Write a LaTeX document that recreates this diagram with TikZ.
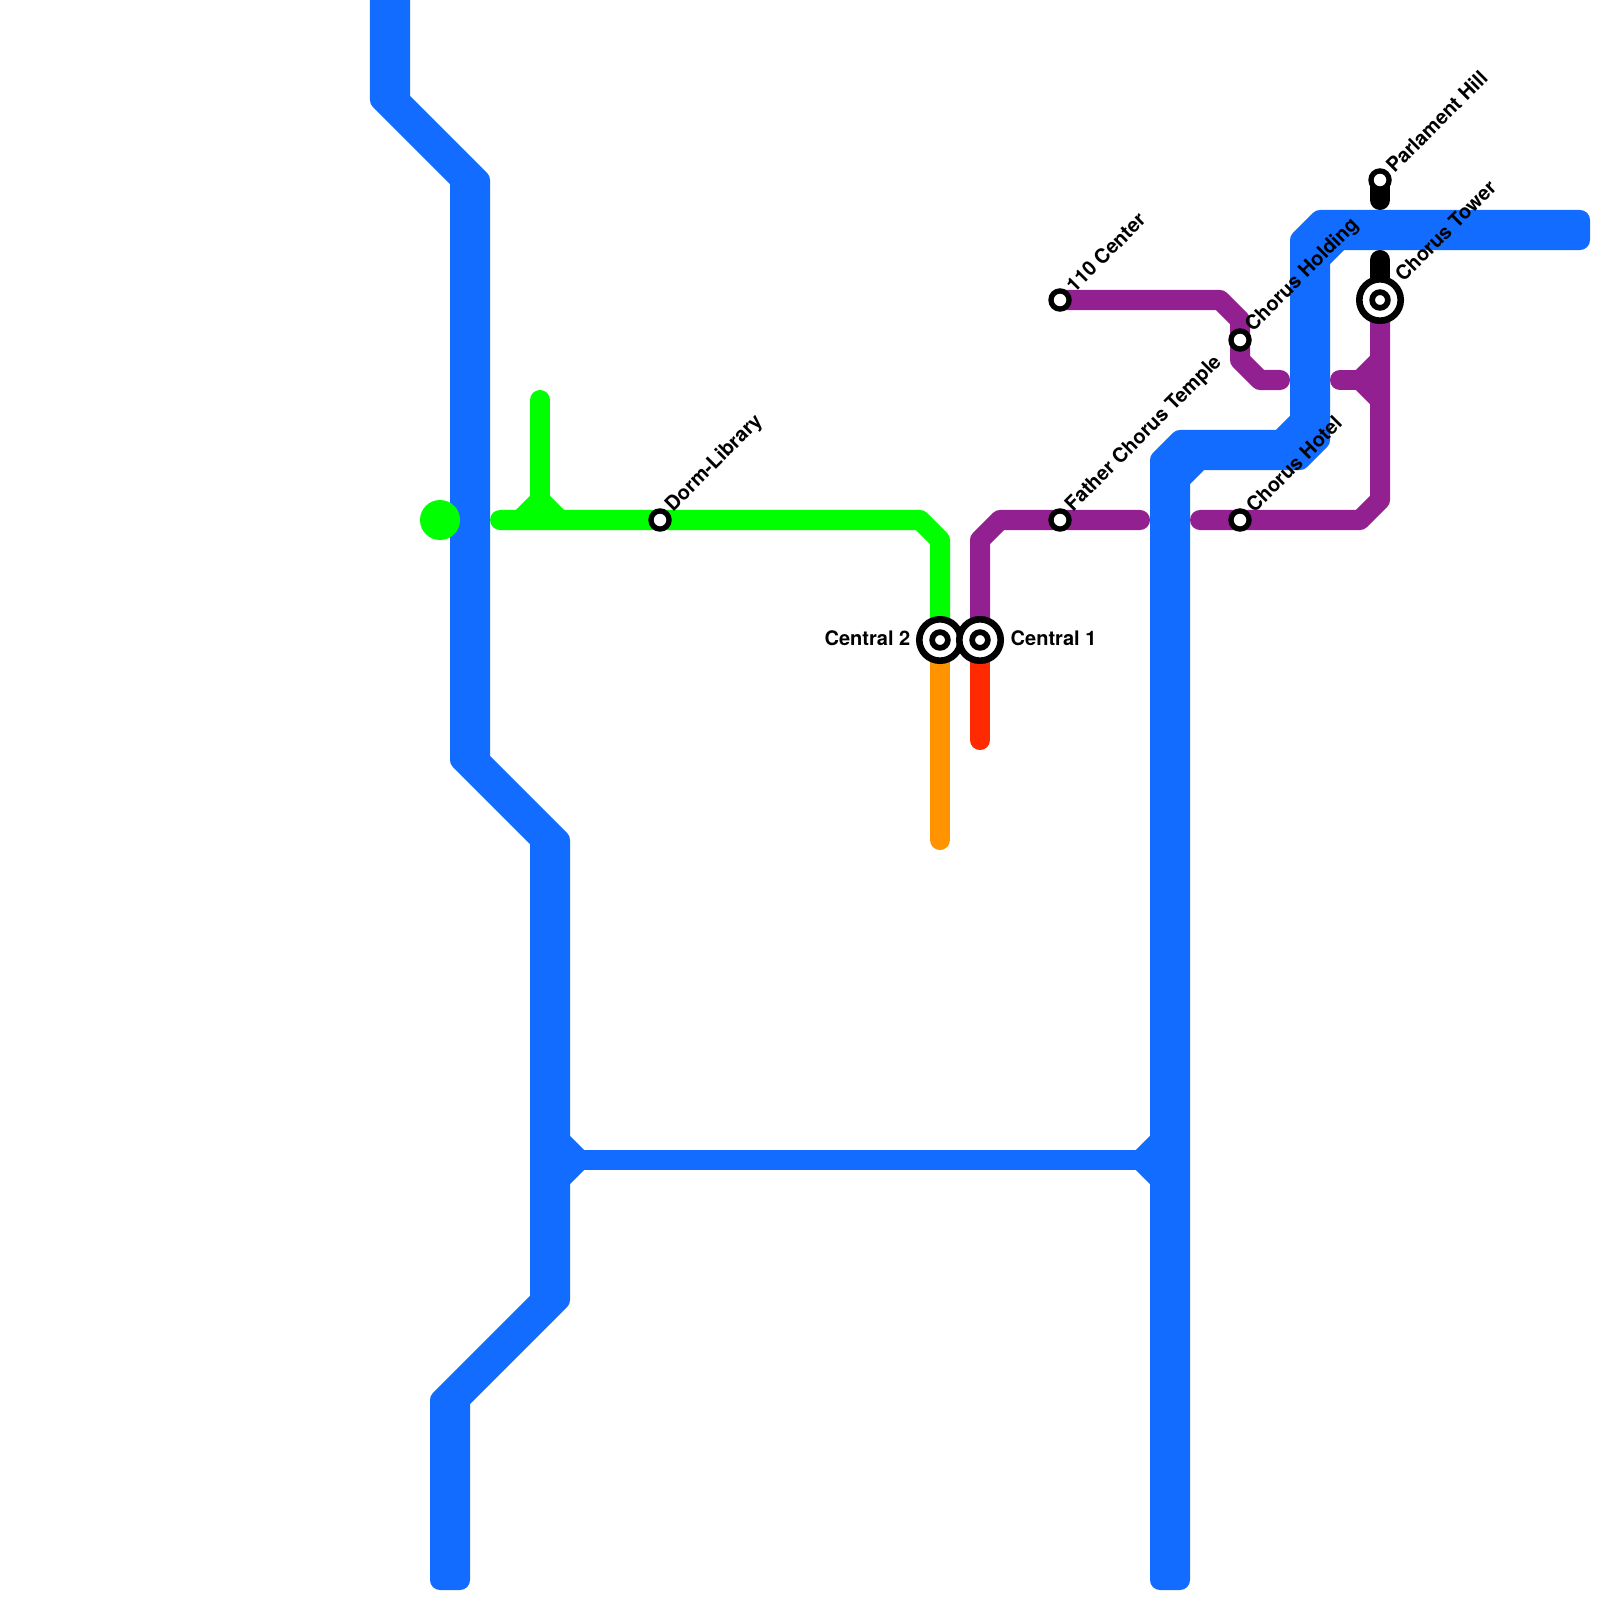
\documentclass[tikz,border=0pt]{standalone}
\usepackage{fontspec}
\setmainfont{TeX Gyre Heros}
\definecolor{metroblue}{HTML}{116CFF}
\definecolor{metrogreen}{HTML}{00FF00}
\definecolor{metropurple}{HTML}{922090}
\definecolor{metroorange}{HTML}{FF9400}
\definecolor{metrored}{HTML}{FF2A00}
\begin{document}
\begin{tikzpicture}[x=0.01cm, y=-0.01cm,
	metroline/.style={line width=0.2cm, line cap=round, line join=round},
	smallstop/.style={circle, draw=black, fill=white, line width=0.053cm, minimum size=0.181cm, inner sep=0pt, outer sep=0pt},
	bigstop/.style={circle, draw=black, fill=white, line width=0.066cm, minimum size=0.414cm, inner sep=0pt, outer sep=0pt},
	bigstopin/.style={circle, draw=black, fill=white, line width=0.057cm, minimum size=0.157cm, inner sep=0pt, outer sep=0pt},
	stoplabel/.style={inner sep=0pt, font=\fontsize{5.69}{7}\selectfont\bfseries},
	slantlabel/.style={stoplabel, rotate=45, anchor=west}]
	\useasboundingbox (0,0) rectangle (1600,1600);
	\clip (0,0) rectangle (1600,1600);
	%station positions
	\coordinate (dorm) at (660,520);
	\coordinate (center110) at (1060,300);
	\coordinate (temple) at (1060,520);
	\coordinate (holding) at (1240,340);
	\coordinate (hotel) at (1240,520);
	\coordinate (parlament) at (1380,180);
	\coordinate (tower) at (1380,300);
	\coordinate (central1) at (980,640);
	\coordinate (central2) at (940,640);
	%draw blue lines
	\filldraw [metroline, metroblue] (380,-30) -- (380,100) -- (460,180) -- (460,760) -- (540,840) -- (540,1300) -- (440,1400) -- (440,1580)
		-- (460,1580) -- (460,1400) -- (560,1300) -- (560,840) -- (480,760) -- (480,180) -- (400,100) -- (400,-30) -- cycle;
	\filldraw [metroline, metroblue] (1160,1580) -- (1160,460) -- (1180,440) -- (1280,440) -- (1300,420) -- (1300,240) -- (1320,220) -- (1580,220)
		-- (1580,240) -- (1340,240) -- (1320,260) -- (1320,440) -- (1300,460) -- (1200,460) -- (1180,480) -- (1180,1580) -- cycle;
	\draw [metroline, metroblue] (550,1130) -- (580,1160) -- (550,1190);
	\draw [metroline, metroblue] (1170,1130) -- (1140,1160) -- (1170,1190);
	\draw [metroline, metroblue] (580,1160) -- (1140,1160);
	%draw green line
	\draw [metroline, metrogreen] (500,520) -- (dorm) -- (920,520) -- (940,540) -- (central2);
	\draw [metroline, metrogreen] (540,400) -- (540,520);
	\draw [metroline, metrogreen] (520,520) -- (540,500) -- (560,520);
	\fill [metrogreen] (440,520) circle (20);
	%draw purple line
	\draw [metroline, metropurple] (central1) -- (980,540) -- (1000,520) -- (temple) -- (1140,520);
	\draw [metroline, metropurple] (center110) -- (1220,300) -- (1240,320) -- (holding) -- (1240,360) -- (1260,380) -- (1280,380);
	\draw [metroline, metropurple] (1340,380) -- (1380,380);
	\draw [metroline, metropurple] (1380,360) -- (1360,380) -- (1380,400);
	\draw [metroline, metropurple] (tower) -- (1380,500) -- (1360,520) -- (hotel) -- (1200,520);
	%draw other lines
	\draw [metroline, metroorange] (central2) -- (940,840);
	\draw [metroline, metrored] (central1) -- (980,740);
	\draw [metroline, black] (parlament) -- (1380,200);
	\draw [metroline, black] (1380,260) -- (tower);
	%draw stations
	\node [smallstop] (dormstop) at (dorm) {};
	\node [smallstop] (center110stop) at (center110) {};
	\node [smallstop] (templestop) at (temple) {};
	\node [smallstop] (holdingstop) at (holding) {};
	\node [smallstop] (hotelstop) at (hotel) {};
	\node [smallstop] (parlamentstop) at (parlament) {};
	\node [bigstop] (towerstop) at (tower) {};
	\node [bigstopin] (towerstopin) at (tower) {};
	\node [bigstop] (central2stop) at (central2) {};
	\node [bigstopin] (central2stopin) at (central2) {};
	\node [bigstop] (central1stop) at (central1) {};
	\node [bigstopin] (central1stopin) at (central1) {};
	%draw labels
	\node [slantlabel] (dormlabel) at (669,509) {Dorm-Library};
	\node [slantlabel] (center110label) at (1069,289) {110 Center};
	\node [slantlabel] (templelabel) at (1069,509) {Father Chorus Temple};
	\node [slantlabel] (holdinglabel) at (1249,329) {Chorus Holding};
	\node [slantlabel] (hotellabel) at (1249,509) {Chorus Hotel};
	\node [slantlabel] (parlamentlabel) at (1389,169) {Parlament Hill};
	\node [slantlabel] (towerlabel) at (1398,278) {Chorus Tower};
	\node [stoplabel, anchor=base east] (central2label) at (911,645) {Central 2};
	\node [stoplabel, anchor=base west] (central1label) at (1010,645) {Central 1};
\end{tikzpicture}
\end{document}
